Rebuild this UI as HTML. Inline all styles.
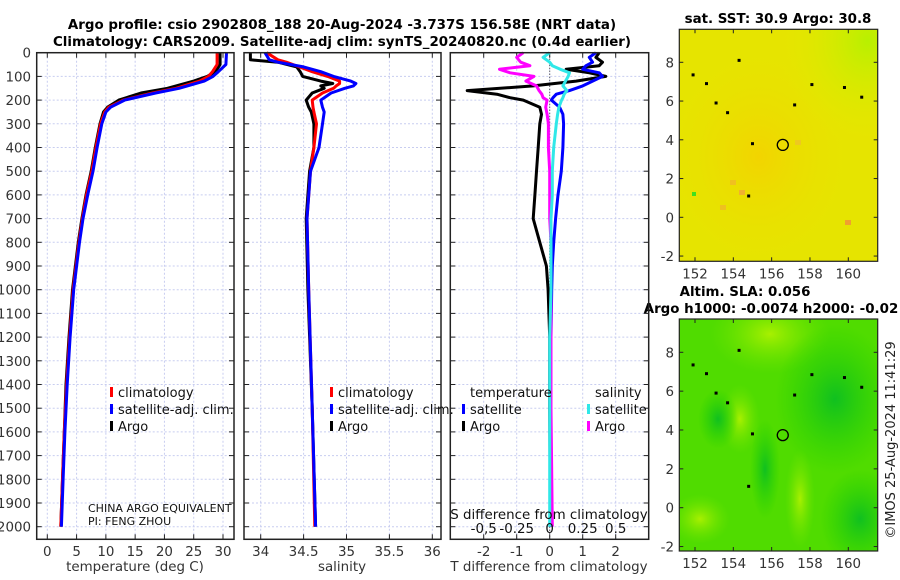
<!DOCTYPE html>
<html><head><meta charset="utf-8">
<style>
html,body{margin:0;padding:0;background:#fff;}
svg{display:block;font-family:"DejaVu Sans","Liberation Sans",sans-serif;}
</style></head>
<body>
<svg id="c" width="900" height="580" viewBox="0 0 900 580" xmlns="http://www.w3.org/2000/svg">
<defs>
<radialGradient id="sstG1" cx="0.95" cy="0.05" r="0.45"><stop offset="0" stop-color="#b8f000"/><stop offset="1" stop-color="#e6ea00" stop-opacity="0"/></radialGradient>
<radialGradient id="sstG2" cx="0.4" cy="0.55" r="0.5"><stop offset="0" stop-color="#f2d400"/><stop offset="1" stop-color="#e8e400" stop-opacity="0"/></radialGradient>
<radialGradient id="slaD" cx="0.5" cy="0.5" r="0.5"><stop offset="0" stop-color="#10c020"/><stop offset="1" stop-color="#22d000" stop-opacity="0"/></radialGradient>
<radialGradient id="slaL" cx="0.5" cy="0.5" r="0.5"><stop offset="0" stop-color="#a8f000"/><stop offset="1" stop-color="#70e400" stop-opacity="0"/></radialGradient>
<clipPath id="clipSst"><rect x="679.3" y="29.3" width="198.4" height="232"/></clipPath>
<clipPath id="clipSla"><rect x="679.3" y="319" width="198.4" height="232"/></clipPath>
</defs>
<g id="titles">
<text x="342" y="29" text-anchor="middle" font-size="13.4" font-weight="bold">Argo profile: csio 2902808_188 20-Aug-2024 -3.737S 156.58E (NRT data)</text>
<text x="342" y="46" text-anchor="middle" font-size="13.4" font-weight="bold">Climatology: CARS2009. Satellite-adj clim: synTS_20240820.nc (0.4d earlier)</text>
<text x="778" y="23" text-anchor="middle" font-size="13.4" font-weight="bold">sat. SST: 30.9 Argo: 30.8</text>
<text x="745" y="296" text-anchor="middle" font-size="13.4" font-weight="bold">Altim. SLA: 0.056</text>
<text x="771" y="313" text-anchor="middle" font-size="13.4" font-weight="bold">Argo h1000: -0.0074 h2000: -0.02</text>
<text transform="translate(895,440) rotate(-90)" text-anchor="middle" font-size="13" fill="#222">©IMOS 25-Aug-2024 11:41:29</text>
</g>
<g id="plots"></g>
</svg>
<script>
// ---- data ----
const depthT = [0,50,80,100,120,150,170,200,230,250,300,400,500,600,700,800,900,1000,1200,1400,1600,1800,2000];
const tempArgo = [29.5,29.5,28.7,27.3,25,20.5,16,12.2,10.3,9.6,9.0,8.2,7.5,6.6,5.9,5.3,4.8,4.3,3.7,3.2,2.9,2.6,2.3];
const tempClim = [29.0,29.0,28.2,27.5,26,22,18,13,10.5,9.8,9.1,8.3,7.6,6.7,6.0,5.4,4.9,4.4,3.8,3.3,2.9,2.6,2.3];
const tempSat  = [30.6,30.5,29.2,28.3,26.8,22.5,18.5,13.2,10.8,10.0,9.3,8.5,7.8,6.9,6.1,5.5,5.0,4.5,3.9,3.4,3.0,2.7,2.4];
const depthS = [0,30,40,60,80,100,120,130,140,150,170,200,230,250,300,400,500,700,1000,1500,2000];
const salArgo = [33.88,33.88,34.2,34.42,34.46,34.49,34.7,34.84,34.7,34.74,34.6,34.53,34.56,34.59,34.62,34.62,34.57,34.53,34.55,34.6,34.64];
const salClim = [34.07,34.2,34.3,34.45,34.6,34.78,34.92,34.92,34.88,34.85,34.72,34.6,34.61,34.62,34.65,34.62,34.58,34.54,34.56,34.6,34.63];
const salSat  = [34.05,34.1,34.2,34.5,34.7,34.85,35.05,35.11,35.08,34.98,34.82,34.7,34.72,34.74,34.72,34.68,34.58,34.54,34.56,34.6,34.64];
const depthD = [0,20,40,55,70,85,100,120,140,160,175,190,200,230,260,300,400,500,600,700,800,900,1000,1200,1500,2000];
const dTArgo = [1.5,1.4,1.6,1.5,0.5,1.2,1.7,0.8,-0.5,-2.5,-1.6,-1.2,-0.8,-0.3,-0.25,-0.3,-0.35,-0.4,-0.45,-0.5,-0.3,-0.1,-0.05,0.0,0.0,0.02];
const dTSat  = [1.4,1.2,1.3,1.1,1.0,1.5,1.6,1.3,1.0,0.6,0.2,0.1,0.05,0.3,0.4,0.42,0.4,0.35,0.25,0.18,0.12,0.08,0.06,0.04,0.03,0.02];
const dSArgo = [-0.2,-0.25,-0.22,-0.15,-0.38,-0.3,-0.12,-0.18,-0.1,-0.08,-0.06,-0.05,-0.02,-0.03,-0.02,-0.01,-0.01,0.0,0.0,0.0,0.01,0.01,0.01,0.01,0.01,0.02];
const dSSat  = [0.0,-0.05,0.0,0.02,0.08,0.15,0.14,0.12,0.1,0.13,0.11,0.1,0.09,0.07,0.06,0.05,0.03,0.02,0.02,0.01,0.01,0.01,0.01,0.0,0.0,0.0];
const depthTicks = [0,100,200,300,400,500,600,700,800,900,1000,1100,1200,1300,1400,1500,1600,1700,1800,1900,2000];
const tTicks = [0,5,10,15,20,25,30];
const sTicks = [34,34.5,35,35.5,36];
const dTTicks = [-2,-1,0,1,2];
const dSTicks = [-0.5,-0.25,0,0.25,0.5];
const dSTickLabels = ["-0,5","-0.25","0","0.25","0.5"];
const lonTicks = [152,154,156,158,160];
const latTicks = [-2,0,2,4,6,8];
const argoLon = 156.58, argoLat = 3.737;

// ---- helpers ----
const NS = "http://www.w3.org/2000/svg";
const root = document.getElementById('plots');
function el(tag, attrs, parent){ const e=document.createElementNS(NS,tag); for(const k in attrs) e.setAttribute(k,attrs[k]); (parent||root).appendChild(e); return e; }
const Y0=52.7, Y1=539.3;
const yScale = d => Y0 + d*0.2370;
function lin(d0,d1,r0,r1){ return v => r0 + (v-d0)*(r1-r0)/(d1-d0); }

function panel(name, x0, x1, xs, ticks, labels, showY){
  const g = el('g',{});
  
  
  ticks.forEach(t=>{ el('line',{x1:xs(t),x2:xs(t),y1:Y0,y2:Y1,stroke:'#c8cdf0','stroke-dasharray':'2,2','stroke-width':1},g); });
  depthTicks.forEach(d=>{ el('line',{x1:x0,x2:x1,y1:yScale(d),y2:yScale(d),stroke:'#c8cdf0','stroke-dasharray':'2,2','stroke-width':1},g);
    el('line',{x1:x0,x2:x0+5,y1:yScale(d),y2:yScale(d),stroke:'#222'},g);
    el('line',{x1:x1-5,x2:x1,y1:yScale(d),y2:yScale(d),stroke:'#222'},g);
    if(showY){ const t=el('text',{x:31,y:yScale(d)+5,'text-anchor':'end','font-size':13.4,fill:'#333'},g); t.textContent=d;
        }
  });
  ticks.forEach((t,i)=>{ el('line',{x1:xs(t),x2:xs(t),y1:Y1,y2:Y1-5,stroke:'#222'},g); el('line',{x1:xs(t),x2:xs(t),y1:Y0,y2:Y0+5,stroke:'#222'},g);
    const tx=el('text',{x:xs(t),y:556,'text-anchor':'middle','font-size':13.4,fill:'#333'},g); tx.textContent=labels[i];
      });
  return g;
}
function line(g, xs, xv, dv, color, name, w){
  const pts = xv.map((v,i)=>xs(v).toFixed(1)+','+yScale(dv[i]).toFixed(1)).join(' ');
  const p = el('polyline',{points:pts,fill:'none',stroke:color,'stroke-width':w||3,'stroke-linejoin':'round'},g);
  
  
}
function frame(g,x0,x1){ el('rect',{x:x0,y:Y0,width:x1-x0,height:Y1-Y0,fill:'none',stroke:'#222','stroke-width':1.5},g); }
function txt(g,x,y,s,size,name,anchor,fill){ const t=el('text',{x:x,y:y,'font-size':size,'text-anchor':anchor||'start',fill:fill||'#111'},g); t.textContent=s;
    return t; }
function legend(g,x,y,color,label,name){ el('rect',{x:x,y:y-10,width:3,height:10,fill:color},g); txt(g,x+8,y,label,13,name); }

// ---- panel 1: temperature ----
const xT = lin(0,30,47.3,223);
const g1 = panel('temperature-panel',36.7,234,xT,tTicks,tTicks.map(String),true);
line(g1,xT,tempArgo,depthT,'#000','argo-temperature-line');
line(g1,xT,tempClim,depthT,'#f00','climatology-temperature-line');
line(g1,xT,tempSat,depthT,'#00f','satellite-temperature-line');
frame(g1,36.7,234);
legend(g1,110,397,'#f00','climatology','legend-climatology');
legend(g1,110,414,'#00f','satellite-adj. clim.','legend-satellite');
legend(g1,110,431,'#000','Argo','legend-argo');
txt(g1,88,512,'CHINA ARGO EQUIVALENT',11,'data-source-label');
txt(g1,88,525,'PI: FENG ZHOU',11,'pi-label');
txt(g1,135,571,'temperature (deg C)',13.4,'x-axis-title-temperature','middle','#333');

// ---- panel 2: salinity ----
const xS = lin(34,36,260.7,432.3);
const g2 = panel('salinity-panel',244,441,xS,sTicks,sTicks.map(String),false);
line(g2,xS,salArgo,depthS,'#000','argo-salinity-line');
line(g2,xS,salClim,depthS,'#f00','climatology-salinity-line');
line(g2,xS,salSat,depthS,'#00f','satellite-salinity-line');
frame(g2,244,441);
legend(g2,330,397,'#f00','climatology','legend-climatology-s');
legend(g2,330,414,'#00f','satellite-adj. clim.','legend-satellite-s');
legend(g2,330,431,'#000','Argo','legend-argo-s');
txt(g2,342,571,'salinity',13.4,'x-axis-title-salinity','middle','#333');

// ---- panel 3: differences ----
const xD = lin(0,2,549.7,615.7);
const xDS = v => xD(v*4);
const g3 = panel('difference-panel',450.3,648.7,xD,dTTicks,dTTicks.map(String),false);
el('line',{x1:xD(0),x2:xD(0),y1:Y0,y2:Y1,stroke:'#333','stroke-dasharray':'1,2'},g3);
line(g3,xD,dTArgo,depthD,'#000','argo-t-diff-line');
line(g3,xD,dTSat,depthD,'#00f','satellite-t-diff-line');
line(g3,xDS,dSArgo,depthD,'#f0f','argo-s-diff-line');
line(g3,xDS,dSSat,depthD,'#30e8e8','satellite-s-diff-line');
frame(g3,450.3,648.7);
txt(g3,470,397,'temperature',13,'legend-temperature-header');
legend(g3,462,414,'#00f','satellite','legend-t-satellite');
legend(g3,462,431,'#000','Argo','legend-t-argo');
txt(g3,595,397,'salinity',13,'legend-salinity-header');
legend(g3,587,414,'#30e8e8','satellite','legend-s-satellite');
legend(g3,587,431,'#f0f','Argo','legend-s-argo');
txt(g3,549,519,'S difference from climatology',13.4,'s-axis-title','middle','#111');
dSTicks.forEach((t,i)=>{ txt(g3,xDS(t),533,dSTickLabels[i],13.4,'s-tick-label','middle','#111'); });
txt(g3,549,571,'T difference from climatology',13.4,'x-axis-title-tdiff','middle','#333');

// ---- maps ----
const mx0=679.3, mx1=877.7;
const lonS = lin(152,160,695,848.3);
function map(name, top, lat8, lat0, kind){
  const g = el('g',{});
  
  
  const latS = lin(0,8,lat0,lat8);
  const bottom = top + 232;
  const f = el('g',{'clip-path': kind==='sst' ? 'url(#clipSst)' : 'url(#clipSla)'},g);
  if(kind==='sst'){
    el('rect',{x:mx0,y:top,width:mx1-mx0,height:bottom-top,fill:'#e6e400'},f);
    el('rect',{x:mx0,y:top,width:mx1-mx0,height:bottom-top,fill:'url(#sstG2)'},f);
    el('rect',{x:mx0,y:top,width:mx1-mx0,height:bottom-top,fill:'url(#sstG1)'},f);
    [[730,180,'#f0c020'],[739,190,'#f0b030'],[845,220,'#f0a030'],[720,205,'#eec020'],[795,140,'#eec820']].forEach(p=>el('rect',{x:p[0],y:p[1],width:6,height:5,fill:p[2]},f));
    el('rect',{x:692,y:192,width:4,height:4,fill:'#40e020'},f);
  } else {
    el('rect',{x:mx0,y:top,width:mx1-mx0,height:bottom-top,fill:'#50dc00'},f);
    el('ellipse',{cx:770,cy:top+15,rx:60,ry:40,fill:'url(#slaL)'},f);
    el('ellipse',{cx:835,cy:top+80,rx:60,ry:75,fill:'url(#slaD)'},f);
    el('ellipse',{cx:860,cy:top+200,rx:40,ry:50,fill:'url(#slaD)'},f);
    el('ellipse',{cx:700,cy:top+200,rx:30,ry:25,fill:'url(#slaL)'},f);
    el('ellipse',{cx:800,cy:top+180,rx:15,ry:50,fill:'url(#slaL)'},f);
    el('ellipse',{cx:740,cy:top+100,rx:20,ry:35,fill:'url(#slaL)'},f);
    el('ellipse',{cx:718,cy:top+100,rx:20,ry:30,fill:'url(#slaD)'},f);
    el('ellipse',{cx:765,cy:top+150,rx:15,ry:50,fill:'url(#slaD)'},f);
  }
  lonTicks.forEach(t=>{ el('line',{x1:lonS(t),x2:lonS(t),y1:bottom,y2:bottom-4,stroke:'#222'},g); el('line',{x1:lonS(t),x2:lonS(t),y1:top,y2:top+4,stroke:'#222'},g);
    txt(g,lonS(t),bottom+17,String(t),13.4,'lon-tick-label','middle','#333'); });
  latTicks.forEach(t=>{ el('line',{x1:mx0,x2:mx0+4,y1:latS(t),y2:latS(t),stroke:'#222'},g); el('line',{x1:mx1-4,x2:mx1,y1:latS(t),y2:latS(t),stroke:'#222'},g);
    txt(g,674,latS(t)+5,String(t),13.4,'lat-tick-label','end','#333'); });
  [[151.9,7.35],[152.6,6.9],[154.3,8.1],[153.1,5.9],[153.7,5.4],[155,3.8],[154.8,1.1],[157.2,5.8],[158.1,6.85],[159.8,6.7],[160.7,6.2]].forEach(p=>el('rect',{x:lonS(p[0])-1.5,y:latS(p[1])-1.5,width:3,height:3,fill:'#000'},g));
  const c = el('circle',{cx:lonS(argoLon),cy:latS(argoLat),r:5.5,fill:'none',stroke:'#000','stroke-width':1.3},g);
  
  
  el('rect',{x:mx0,y:top,width:mx1-mx0,height:bottom-top,fill:'none',stroke:'#222','stroke-width':1.2},g);
}
map('sst-map',29.3,62.3,217.3,'sst');
map('sla-map',319,352.3,507.7,'sla');
</script>
</body></html>
